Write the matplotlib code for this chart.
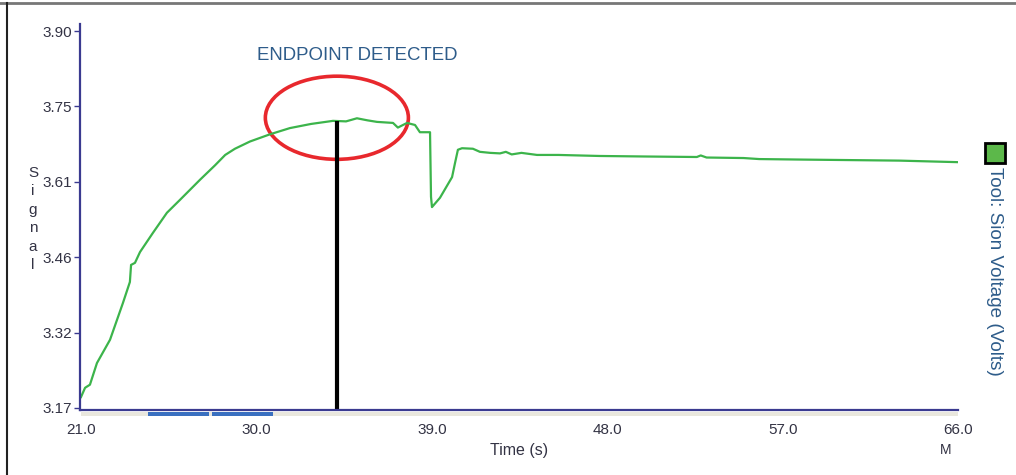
import matplotlib
matplotlib.use("Agg")
import matplotlib.pyplot as plt
from matplotlib.patches import Ellipse, Rectangle
from matplotlib.lines import Line2D

plt.rcParams['font.family'] = ['Liberation Sans', 'DejaVu Sans']

# ---- data ----
time_s = [21.0, 21.21, 21.46, 21.82, 22.49, 23.15, 23.51, 23.57, 23.77, 24.03,
          24.69, 25.41, 26.08, 27.11, 27.88, 28.4, 28.9, 29.67, 30.7, 31.72,
          32.8, 33.93, 34.6, 35.16, 35.7, 36.19, 37.01, 37.26, 37.73, 38.14,
          38.39, 38.91, 38.96, 39.01, 39.42, 40.04, 40.19, 40.34, 40.55, 41.11,
          41.47, 42.0, 42.5, 42.8, 43.1, 43.6, 44.4, 45.5, 47.6, 49.9, 52.6,
          52.8, 53.1, 55.0, 55.8, 58.0, 60.5, 63.0, 66.0]
voltage = [3.191, 3.209, 3.215, 3.257, 3.302, 3.373, 3.414, 3.447, 3.451, 3.472,
           3.509, 3.548, 3.573, 3.612, 3.640, 3.660, 3.672, 3.686, 3.700, 3.712,
           3.720, 3.726, 3.725, 3.731, 3.727, 3.724, 3.722, 3.713, 3.722, 3.718,
           3.704, 3.704, 3.579, 3.559, 3.577, 3.617, 3.644, 3.670, 3.673, 3.672,
           3.666, 3.664, 3.663, 3.666, 3.661, 3.664, 3.660, 3.660, 3.658, 3.657,
           3.656, 3.659, 3.655, 3.654, 3.652, 3.651, 3.650, 3.649, 3.646]
endpoint_t = 34.13
endpoint_v = 3.726
circle_center = (34.13, 3.732)
circle_size = (7.34, 0.161)

y_ticks = [3.17, 3.316, 3.462, 3.608, 3.754, 3.90]
y_tick_labels = ["3.17", "3.32", "3.46", "3.61", "3.75", "3.90"]
x_ticks = [21.0, 30.0, 39.0, 48.0, 57.0, 66.0]
x_tick_labels = ["21.0", "30.0", "39.0", "48.0", "57.0", "66.0"]

W, H = 1016, 475
fig = plt.figure(figsize=(W / 100, H / 100), dpi=100)
fig.patch.set_facecolor('white')

def fx(px):
    return px / W

def fy(py):
    return 1 - py / H

ax = fig.add_axes([fx(80), fy(410), fx(958) - fx(80), fy(24) - fy(410)])
ax.set_xlim(20.95, 66.0)
ax.set_ylim(3.166, 3.9136)

axis_col = '#3a3a90'
text_col = '#333344'
blue_txt = '#2e5c8a'
green = '#3cb44b'

ax.plot(time_s, voltage, color=green, lw=1.6, solid_joinstyle='round')
ax.vlines(endpoint_t, 3.166, endpoint_v, color='black', lw=3)
ax.add_patch(Ellipse(circle_center, circle_size[0], circle_size[1],
                     fill=False, edgecolor='#e8282d', lw=2.6))
ax.text(30.05, 3.852, "ENDPOINT DETECTED", color=blue_txt, fontsize=13.4,
        ha='left', va='center')

for s in ['top', 'right']:
    ax.spines[s].set_visible(False)
for s in ['left', 'bottom']:
    ax.spines[s].set_color(axis_col)
    ax.spines[s].set_linewidth(1.6)

ax.set_yticks(y_ticks)
ax.set_yticklabels(y_tick_labels)
ax.set_xticks(x_ticks)
ax.set_xticklabels(x_tick_labels)
ax.tick_params(axis='y', direction='out', length=4, width=1, color=axis_col,
               labelcolor=text_col, labelsize=11, pad=1.5)
ax.tick_params(axis='x', length=0, labelcolor=text_col, labelsize=11, pad=9)

# scrollbar under x axis
fig.patches.append(Rectangle((fx(81), fy(416)), fx(958) - fx(81), fy(412) - fy(416),
                             transform=fig.transFigure, facecolor='#e9e7dd',
                             edgecolor='none'))
fig.patches.append(Rectangle((fx(148), fy(416)), fx(209) - fx(148), fy(412) - fy(416),
                             transform=fig.transFigure, facecolor='#3a70c0',
                             edgecolor='none'))
fig.patches.append(Rectangle((fx(212), fy(416)), fx(273) - fx(212), fy(412) - fy(416),
                             transform=fig.transFigure, facecolor='#3a70c0',
                             edgecolor='none'))

# axis labels
fig.text(fx(33), fy(219), "S\ni\ng\nn\na\nl", color=text_col, fontsize=11,
         ha='center', va='center', linespacing=1.4)
fig.text(fx(519), fy(450), "Time (s)", color=text_col, fontsize=11.5,
         ha='center', va='center')
fig.text(fx(946), fy(450), "M", color=text_col, fontsize=10,
         ha='center', va='center')

# legend
fig.patches.append(Rectangle((fx(985), fy(163)), fx(20), 20 / H,
                             transform=fig.transFigure, facecolor='#5cb84a',
                             edgecolor='black', lw=2))
fig.text(fx(995), fy(167), "Tool: Sion Voltage (Volts)", color=blue_txt,
         fontsize=13.6, rotation=-90, ha='center', va='top')

# frame lines
fig.add_artist(Line2D([0, 1], [fy(2.5), fy(2.5)], transform=fig.transFigure,
                      color='#777777', lw=2))
fig.add_artist(Line2D([fx(7), fx(7)], [0, fy(2.5)], transform=fig.transFigure,
                      color='#222222', lw=1.5))

fig.savefig("out.png", dpi=100)
